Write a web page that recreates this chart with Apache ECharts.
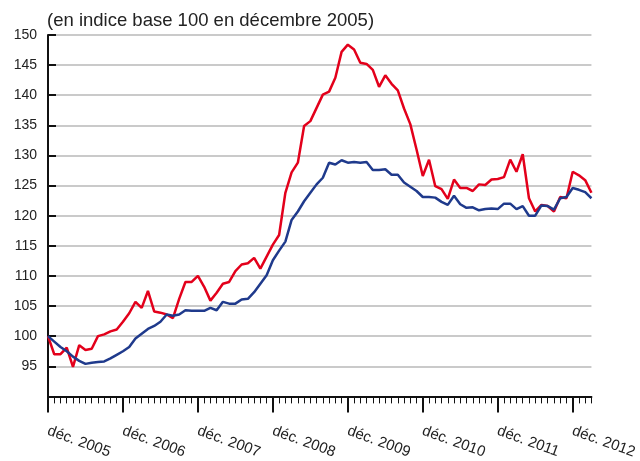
<!DOCTYPE html>
<html>
<head>
<meta charset="utf-8">
<script src="https://cdn.jsdelivr.net/npm/echarts@6/dist/echarts.min.js"></script>
<style>
  html, body { margin: 0; padding: 0; background: #fff; }
  #chart { width: 640px; height: 461px; }
</style>
</head>
<body>
<div id="chart"></div>
<script>
// monthly index, base 100 = déc. 2005, up to mars 2013
const monthNames = ['janv.', 'févr.', 'mars', 'avr.', 'mai', 'juin', 'juil.', 'août', 'sept.', 'oct.', 'nov.', 'déc.']
const months = []
for (let k = 0; k < 88; k++) {
  const m = (11 + k) % 12
  const y = 2005 + Math.floor((11 + k) / 12)
  months.push(monthNames[m] + ' ' + y)
}

const redSeries = [
  100.0, 97.0, 97.0, 98.1, 94.9, 98.5, 97.7, 97.9, 100.0, 100.3, 100.8, 101.1,
  102.4, 103.8, 105.7, 104.7, 107.5, 104.1, 103.9, 103.6, 103.0, 106.2, 109.0, 109.0,
  110.0, 108.2, 105.9, 107.2, 108.7, 109.0, 110.8, 111.9, 112.1, 113.0, 111.2, 113.2,
  115.2, 116.8, 123.8, 127.2, 128.8, 134.9, 135.7, 137.9, 140.1, 140.6, 142.9, 147.2,
  148.4, 147.6, 145.4, 145.2, 144.2, 141.4, 143.3, 141.9, 140.8, 137.8, 135.2, 131.0,
  126.6, 129.3, 124.9, 124.4, 122.8, 126.0, 124.6, 124.6, 124.1, 125.2, 125.1, 126.0,
  126.1, 126.4, 129.3, 127.3, 130.2, 122.9, 120.7, 121.8, 121.6, 120.7, 123.1, 122.9,
  127.3, 126.7, 125.9, 123.8
]

const blueSeries = [
  100.0, 99.1, 98.2, 97.5, 96.6, 95.9, 95.4, 95.6, 95.7, 95.8, 96.3, 96.9,
  97.5, 98.2, 99.6, 100.4, 101.2, 101.7, 102.4, 103.6, 103.4, 103.6, 104.3, 104.2,
  104.2, 104.2, 104.7, 104.3, 105.7, 105.4, 105.4, 106.1, 106.2, 107.3, 108.7, 110.1,
  112.6, 114.2, 115.7, 119.3, 120.7, 122.4, 123.8, 125.2, 126.3, 128.8, 128.5, 129.2,
  128.8, 128.9, 128.8, 128.9, 127.6, 127.6, 127.7, 126.8, 126.8, 125.5, 124.8, 124.1,
  123.1, 123.1, 123.0, 122.3, 121.8, 123.3, 121.9, 121.3, 121.4, 120.9, 121.1, 121.2,
  121.1, 122.0, 122.0, 121.1, 121.6, 120.0, 120.0, 121.7, 121.6, 121.0, 122.9, 123.1,
  124.6, 124.3, 123.9, 122.9
]

const titleText = '(en indice base 100 en décembre 2005)'
const yTicks = { min: 90, max: 150, step: 5 }

const isDec = (idx) => idx % 12 === 0
const font = 'Liberation Sans, Arial, Helvetica, sans-serif'

const chart = echarts.init(document.getElementById('chart'), null, { renderer: 'canvas' })

chart.setOption({
  animation: false,
  backgroundColor: '#fff',
  title: {
    text: titleText,
    left: 42,
    top: 6,
    textStyle: { fontFamily: font, fontSize: 18.5, fontWeight: 'normal', color: '#222' }
  },
  grid: { left: 48, right: 44, top: 35, bottom: 63, containLabel: false },
  xAxis: [
    {
      type: 'category',
      data: months,
      boundaryGap: false,
      axisLine: { lineStyle: { color: '#111', width: 2 } },
      axisTick: { interval: 0, length: 7, lineStyle: { color: '#111', width: 1 } },
      axisLabel: { show: false },
      splitLine: { show: false }
    },
    {
      type: 'category',
      data: months,
      boundaryGap: false,
      position: 'bottom',
      axisLine: { show: false },
      axisTick: { interval: isDec, length: 16, lineStyle: { color: '#111', width: 2 } },
      axisLabel: {
        interval: isDec,
        rotate: -20,
        margin: 34,
        fontFamily: font,
        fontSize: 15,
        color: '#222',
        formatter: (v) => v
      },
      splitLine: { show: false }
    }
  ],
  yAxis: {
    type: 'value',
    min: yTicks.min,
    max: yTicks.max,
    interval: yTicks.step,
    axisLine: { show: true, lineStyle: { color: '#111', width: 2 } },
    axisTick: { show: true, inside: true, length: 8, lineStyle: { color: '#111', width: 2 } },
    axisLabel: {
      margin: 11,
      fontFamily: font,
      fontSize: 14,
      color: '#222',
      formatter: (v) => (v === yTicks.min ? '' : String(v))
    },
    splitLine: { show: true, lineStyle: { color: '#b8b8b8', width: 1.5 } }
  },
  series: [
    {
      name: 'rouge',
      type: 'line',
      data: redSeries,
      symbol: 'none',
      lineStyle: { color: '#e3001b', width: 2.5 },
      z: 3
    },
    {
      name: 'bleu',
      type: 'line',
      data: blueSeries,
      symbol: 'none',
      lineStyle: { color: '#1f3a8c', width: 2.5 },
      z: 4
    }
  ]
})
</script>
</body>
</html>
